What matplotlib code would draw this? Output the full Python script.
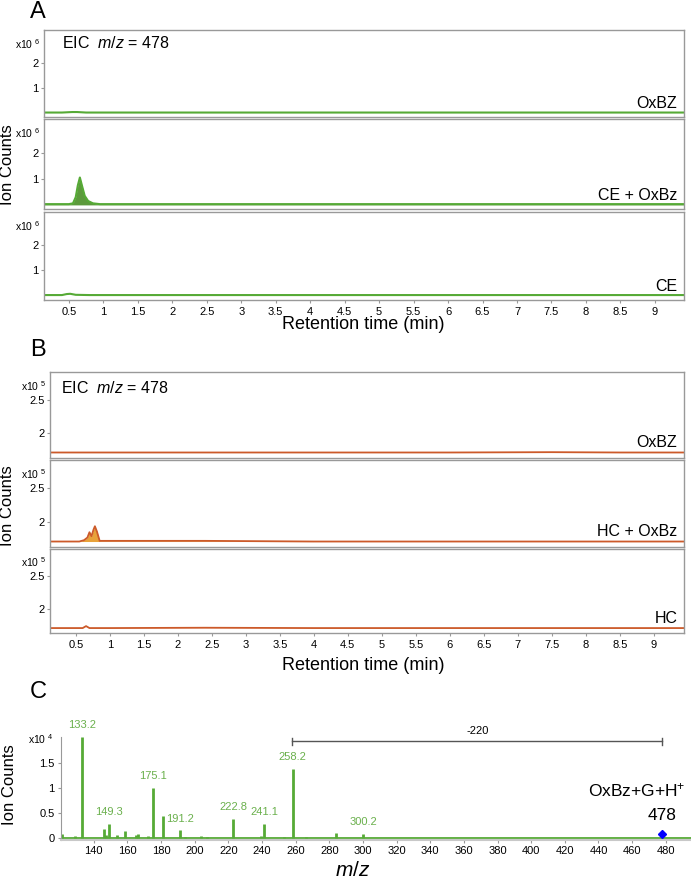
import numpy as np
import matplotlib
matplotlib.use("Agg")
from matplotlib import pyplot as plt

plt.rcParams['font.family'] = ['Liberation Sans', 'DejaVu Sans']
plt.rcParams['mathtext.fontset'] = 'custom'
plt.rcParams['mathtext.rm'] = 'Liberation Sans'
plt.rcParams['mathtext.it'] = 'Liberation Sans:italic'

# ---- data ----
# panel A, EIC traces, x10^6
a_labels = ["OxBZ", "CE + OxBz", "CE"]
a_time = [
    [0.14, 0.4, 0.55, 0.62, 0.75, 1.0, 9.42],
    [0.14, 0.5, 0.56, 0.6, 0.63, 0.66, 0.69, 0.73, 0.78, 0.85, 0.95, 9.42],
    [0.14, 0.4, 0.47, 0.52, 0.6, 0.8, 1.0, 9.42],
]
a_int = [
    [0.03, 0.03, 0.05, 0.05, 0.03, 0.03, 0.03],
    [0.03, 0.03, 0.06, 0.3, 0.75, 1.06, 0.75, 0.35, 0.15, 0.06, 0.03, 0.03],
    [0.03, 0.03, 0.07, 0.08, 0.04, 0.03, 0.03, 0.03],
]
# panel B, EIC traces, x10^5
b_labels = ["OxBZ", "HC + OxBz", "HC"]
b_time = [
    [0.12, 1.0, 2.5, 4.0, 6.0, 7.5, 8.5, 9.44],
    [0.12, 0.55, 0.62, 0.67, 0.70, 0.73, 0.76, 0.78, 0.81, 0.85, 1.0, 2.4, 4.0, 9.44],
    [0.12, 0.6, 0.65, 0.7, 1.0, 2.4, 4.0, 9.44],
]
b_int = [
    [1.70, 1.70, 1.70, 1.70, 1.70, 1.705, 1.70, 1.70],
    [1.70, 1.70, 1.72, 1.76, 1.84, 1.78, 1.88, 1.93, 1.85, 1.71, 1.71, 1.71, 1.70, 1.70],
    [1.70, 1.70, 1.73, 1.70, 1.70, 1.705, 1.70, 1.70],
]
# panel C, MS spectrum, x10^4
c_mz = [121, 129, 133.2, 146, 147.5, 149.3, 154, 158.5, 165, 166.5, 172.5, 175.1,
        181, 191.2, 194, 204, 207, 222.8, 239.5, 241.1, 253, 258.2, 266, 284, 300.2]
c_int = [0.07, 0.03, 2.0, 0.18, 0.05, 0.28, 0.05, 0.14, 0.06, 0.07, 0.03, 1.0,
         0.44, 0.15, 0.02, 0.03, 0.02, 0.37, 0.03, 0.27, 0.02, 1.38, 0.02, 0.1, 0.08]
c_labeled = ["133.2", "149.3", "175.1", "191.2", "222.8", "241.1", "258.2", "300.2"]

rt_ticks = np.arange(0.5, 9.01, 0.5)
rt_ticklabels = ["%g" % t for t in rt_ticks]

green = '#56aa36'
green_fill = '#5c9a3c'
orange = '#cc5a2a'
orange_fill = '#e8a23a'
frame = '#999999'

fig = plt.figure(figsize=(6.91, 8.82), dpi=100)


def panel(rect, xlim, ylim, yticks, yticklabels, exp):
    ax = fig.add_axes(rect)
    ax.set_xlim(xlim)
    ax.set_ylim(ylim)
    for s in ax.spines.values():
        s.set_color(frame)
        s.set_linewidth(1.0)
    ax.set_yticks(yticks)
    ax.set_yticklabels(yticklabels, fontsize=8)
    ax.tick_params(axis='y', length=2.5, color=frame, pad=1.5)
    ax.set_xticks(rt_ticks)
    ax.set_xticklabels([])
    ax.tick_params(axis='x', length=0)
    ax.text(-0.005, 0.84, r'x10 $^{\mathregular{%d}}$' % exp, transform=ax.transAxes,
            ha='right', va='center', fontsize=7.5)
    return ax


# ---- panel A ----
a_rects = [[0.0637, 0.867, 0.926, 0.099],
           [0.0637, 0.763, 0.926, 0.102],
           [0.0637, 0.660, 0.926, 0.100]]
for i in range(3):
    ax = panel(a_rects[i], (0.14, 9.42), (-0.16, 3.32), [1, 2], ["1", "2"], 6)
    if i == 1:
        ax.fill_between(a_time[i], 0, a_int[i], color=green_fill, lw=0)
    ax.plot(a_time[i], a_int[i], color=green, lw=1.5)
    ax.text(0.99, 0.07, a_labels[i], transform=ax.transAxes, ha='right', va='bottom', fontsize=11.5)
    if i == 0:
        ax.text(0.028, 0.85, r'EIC  $\it{m/z}$ = 478', transform=ax.transAxes,
                ha='left', va='center', fontsize=11.5)
    if i == 2:
        ax.set_xticklabels(rt_ticklabels, fontsize=8)
        ax.tick_params(axis='x', length=2, color=frame, pad=3)

fig.text(0.525, 0.632, "Retention time (min)", ha='center', va='center', fontsize=13)
fig.text(0.011, 0.813, "Ion Counts", ha='center', va='center', rotation=90, fontsize=12)
fig.text(0.043, 0.986, "A", ha='left', va='center', fontsize=17)

# ---- panel B ----
b_rects = [[0.0724, 0.481, 0.917, 0.097],
           [0.0724, 0.380, 0.917, 0.098],
           [0.0724, 0.282, 0.917, 0.096]]
for i in range(3):
    ax = panel(b_rects[i], (0.12, 9.44), (1.62, 2.92), [2, 2.5], ["2", "2.5"], 5)
    if i == 1:
        ax.fill_between(b_time[i], 1.70, b_int[i], color=orange_fill, lw=0)
    ax.plot(b_time[i], b_int[i], color=orange, lw=1.3)
    ax.text(0.99, 0.09, b_labels[i], transform=ax.transAxes, ha='right', va='bottom', fontsize=11.5)
    if i == 0:
        ax.text(0.018, 0.81, r'EIC  $\it{m/z}$ = 478', transform=ax.transAxes,
                ha='left', va='center', fontsize=11.5)
    if i == 2:
        ax.set_xticklabels(rt_ticklabels, fontsize=8)
        ax.tick_params(axis='x', length=2, color=frame, pad=3)

fig.text(0.525, 0.246, "Retention time (min)", ha='center', va='center', fontsize=13)
fig.text(0.011, 0.427, "Ion Counts", ha='center', va='center', rotation=90, fontsize=12)
fig.text(0.043, 0.603, "B", ha='left', va='center', fontsize=17)

# ---- panel C ----
ax = fig.add_axes([0.0883, 0.0476, 0.9117, 0.1164])
ax.set_xlim(120.5, 495)
ax.set_ylim(-0.04, 2.0)
ax.spines['top'].set_visible(False)
ax.spines['right'].set_visible(False)
ax.spines['left'].set_color(frame)
ax.spines['bottom'].set_color('#c8c8c8')
ax.spines['bottom'].set_linewidth(1.5)
ax.set_yticks([0, 0.5, 1, 1.5])
ax.set_yticklabels(["0", "0.5", "1", "1.5"], fontsize=8)
ax.set_xticks(np.arange(140, 481, 20))
ax.set_xticklabels(["%d" % v for v in np.arange(140, 481, 20)], fontsize=8)
ax.tick_params(axis='both', length=2.5, color=frame, pad=2)
ax.axhline(0.01, color=green, lw=1.3)
ax.vlines(c_mz, 0, c_int, color=green, lw=2.0)
for mz, h in zip(c_mz, c_int):
    if "%.1f" % mz in c_labeled:
        ax.annotate("%.1f" % mz, (mz, h), xytext=(0, 5), textcoords='offset points',
                    ha='center', va='bottom', fontsize=8, color='#6ab04c', annotation_clip=False)
ax.text(-0.012, 0.98, r'x10 $^{\mathregular{4}}$', transform=ax.transAxes,
        ha='right', va='center', fontsize=7.5)
# mass difference bracket
ax.plot([258, 478], [1.92, 1.92], color='#555555', lw=1.0)
ax.plot([258, 258], [1.85, 1.99], color='#555555', lw=1.0)
ax.plot([478, 478], [1.85, 1.99], color='#555555', lw=1.0)
ax.text(368, 2.03, "-220", ha='center', va='bottom', fontsize=8)
ax.plot([478], [0.08], marker='D', color='blue', ms=4)
ax.text(478, 0.3, "478", ha='center', va='bottom', fontsize=12.5)
ax.text(492, 0.76, r'OxBz+G+H$^{\mathregular{+}}$', ha='right', va='bottom', fontsize=12.5)

fig.text(0.51, 0.013, r'$\it{m/z}$', ha='center', va='center', fontsize=15)
fig.text(0.014, 0.11, "Ion Counts", ha='center', va='center', rotation=90, fontsize=12)
fig.text(0.043, 0.215, "C", ha='left', va='center', fontsize=17)

plt.savefig("out.png", dpi=100)
